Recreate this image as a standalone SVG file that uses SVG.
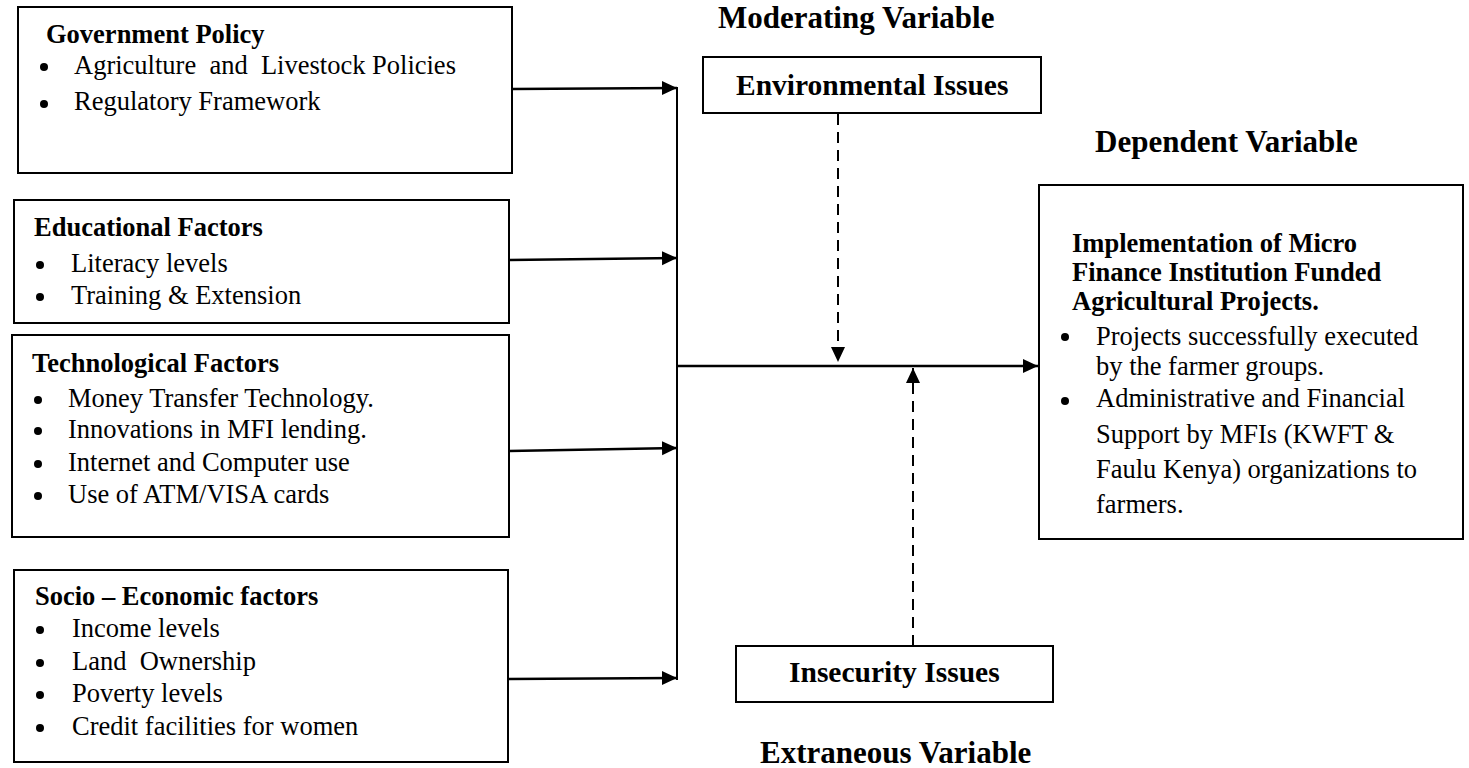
<svg xmlns="http://www.w3.org/2000/svg" width="1469" height="768" viewBox="0 0 1469 768">
<style>
.box{fill:#fff;stroke:#000;stroke-width:2}
.t{font-family:"Liberation Serif","Times New Roman",serif;fill:#000}
.body{font-size:26.5px}
.hd{font-size:26.5px;font-weight:bold}
.big{font-size:31px;font-weight:bold}
.mid{font-size:29.5px;font-weight:bold}
.ln{stroke:#000;stroke-width:2.5;fill:none}
.dl{stroke:#000;stroke-width:2;fill:none;stroke-dasharray:11 7}
.dot{fill:#000}
</style>
<defs>
<marker id="ah" markerUnits="userSpaceOnUse" markerWidth="16" markerHeight="16" viewBox="0 0 16 16" refX="15" refY="8" orient="auto">
<path d="M0,1 L15,8 L0,15 Z" fill="#000"/>
</marker>
</defs>
<rect width="1469" height="768" fill="#fff"/>

<g id="labels">
<text class="t big" x="718" y="28">Moderating Variable</text>
<text class="t big" x="1095" y="152">Dependent Variable</text>
<text class="t big" x="760" y="763">Extraneous Variable</text>
</g>

<g id="connectors">
<line class="ln" x1="512" y1="89" x2="677" y2="88" marker-end="url(#ah)"/>
<line class="ln" x1="509" y1="260" x2="677" y2="258" marker-end="url(#ah)"/>
<line class="ln" x1="509" y1="451" x2="677" y2="448" marker-end="url(#ah)"/>
<line class="ln" x1="507" y1="679" x2="677" y2="678" marker-end="url(#ah)"/>
<line class="ln" x1="677" y1="87" x2="677" y2="680" style="stroke-width:2"/>
<line class="ln" x1="677" y1="366" x2="1038" y2="366" marker-end="url(#ah)"/>
<line class="dl" x1="838" y1="114" x2="838" y2="362" marker-end="url(#ah)"/>
<line class="dl" x1="913" y1="646" x2="913" y2="368" marker-end="url(#ah)"/>
</g>

<g id="gov">
<rect class="box" x="18" y="7" width="494" height="166"/>
<text class="t hd" x="46" y="43">Government Policy</text>
<circle class="dot" cx="44" cy="67" r="4"/>
<text class="t body" x="74" y="74" xml:space="preserve">Agriculture  and  Livestock Policies</text>
<circle class="dot" cx="44" cy="104" r="4"/>
<text class="t body" x="74" y="110">Regulatory Framework</text>
</g>

<g id="edu">
<rect class="box" x="14" y="200" width="495" height="123"/>
<text class="t hd" x="34" y="236">Educational Factors</text>
<circle class="dot" cx="40" cy="265" r="4"/>
<text class="t body" x="71" y="272">Literacy levels</text>
<circle class="dot" cx="40" cy="297" r="4"/>
<text class="t body" x="71" y="304">Training &amp; Extension</text>
</g>

<g id="tech">
<rect class="box" x="12" y="335" width="497" height="202"/>
<text class="t hd" x="32" y="372">Technological Factors</text>
<circle class="dot" cx="38" cy="400" r="4"/>
<text class="t body" x="68" y="407">Money Transfer Technology.</text>
<circle class="dot" cx="38" cy="431" r="4"/>
<text class="t body" x="68" y="438">Innovations in MFI lending.</text>
<circle class="dot" cx="38" cy="464" r="4"/>
<text class="t body" x="68" y="471">Internet and Computer use</text>
<circle class="dot" cx="38" cy="496" r="4"/>
<text class="t body" x="68" y="503">Use of ATM/VISA cards</text>
</g>

<g id="socio">
<rect class="box" x="14" y="570" width="494" height="192"/>
<text class="t hd" x="35" y="605">Socio – Economic factors</text>
<circle class="dot" cx="40" cy="630" r="4"/>
<text class="t body" x="72" y="637">Income levels</text>
<circle class="dot" cx="40" cy="663" r="4"/>
<text class="t body" x="72" y="670" xml:space="preserve">Land  Ownership</text>
<circle class="dot" cx="40" cy="695" r="4"/>
<text class="t body" x="72" y="702">Poverty levels</text>
<circle class="dot" cx="40" cy="728" r="4"/>
<text class="t body" x="72" y="735">Credit facilities for women</text>
</g>

<g id="env">
<rect class="box" x="703" y="57" width="338" height="56"/>
<text class="t mid" x="736" y="95">Environmental Issues</text>
</g>

<g id="insec">
<rect class="box" x="736" y="646" width="317" height="56"/>
<text class="t mid" x="789" y="682">Insecurity Issues</text>
</g>

<g id="dep">
<rect class="box" x="1039" y="185" width="424" height="354"/>
<text class="t hd" x="1072" y="252">Implementation of Micro</text>
<text class="t hd" x="1072" y="281">Finance Institution Funded</text>
<text class="t hd" x="1072" y="310">Agricultural Projects.</text>
<circle class="dot" cx="1065" cy="337" r="4"/>
<text class="t body" x="1096" y="345">Projects successfully executed</text>
<text class="t body" x="1096" y="375">by the farmer groups.</text>
<circle class="dot" cx="1065" cy="401" r="4"/>
<text class="t body" x="1096" y="407">Administrative and Financial</text>
<text class="t body" x="1096" y="443">Support by MFIs (KWFT &amp;</text>
<text class="t body" x="1096" y="478">Faulu Kenya) organizations to</text>
<text class="t body" x="1096" y="513">farmers.</text>
</g>
</svg>
